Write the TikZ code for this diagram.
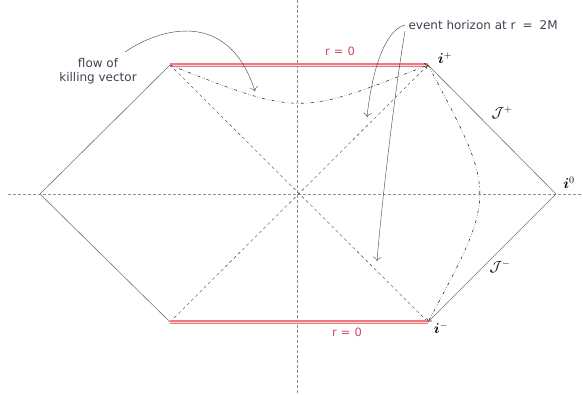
\documentclass[tikz,border=0pt]{standalone}
\usepackage{fontspec}
\setmainfont{DejaVu Sans}
\usepackage{amsmath,bm}
\usetikzlibrary{arrows.meta}
\definecolor{txtgray}{HTML}{4A3C52}
\definecolor{singred}{HTML}{F07880}
\definecolor{singcore}{HTML}{FCD8DA}
\definecolor{rlabel}{HTML}{D04868}
\tikzset{
  axis/.style={densely dashed, gray!90, thick},
  bdry/.style={gray!90!black, semithick},
  horizon/.style={dashed, black!75},
  sing/.style={draw=singcore, line width=1pt, preaction={draw=singred, line width=3.4pt}},
  killing/.style={dash dot dot, black!80, semithick, -{To[length=3pt]}},
  pointer/.style={black!75, -{To[length=4pt]}},
  lbl/.style={font=\fontsize{12}{14}\selectfont, text=txtgray},
  rlbl/.style={font=\fontsize{11.5}{14}\selectfont, text=rlabel},
  inf/.style={font=\Large},
}
\begin{document}
\begin{tikzpicture}[x=1pt,y=-1pt]
  \useasboundingbox (0,0) rectangle (583,394);
  % corners of the diagram
  \coordinate (left) at (40,194);
  \coordinate (tl) at (170,65);
  \coordinate (bl) at (170,322);
  \coordinate (ip) at (428,65);
  \coordinate (im) at (428,322);
  \coordinate (izero) at (556,194);
  \coordinate (mid) at (297,194);
  % axes
  \draw[axis] (8,194) -- (583,194);
  \draw[axis] (297,0) -- (297,394);
  % outer boundary
  \draw[bdry] (tl) -- (left) -- (bl);
  \draw[bdry] (ip) -- (izero) -- (im);
  % horizons
  \draw[horizon] (tl) -- (im);
  \draw[horizon] (bl) -- (ip);
  % singularities
  \draw[sing] (tl) -- (ip);
  \draw[sing] (bl) -- (im);
  \node[rlbl] (rtop) at (340,51) {r\hspace{4pt}=\hspace{4pt}0};
  \node[rlbl] (rbot) at (347,332) {r\hspace{4pt}=\hspace{4pt}0};
  % killing flow lines
  \draw[killing] (tl) .. controls (299,116) .. (ip);
  \draw[killing] (ip) .. controls (497,194) .. (im);
  % labels of infinity
  \node[inf] (lip) at (445,58) {$\bm{i}^{+}$};
  \node[inf] (lim) at (441,328) {$\bm{i}^{-}$};
  \node[inf] (liz) at (569,183) {$\bm{i}^{0}$};
  \node[inf] (jp) at (502,113) {$\mathcal{J}^{+}$};
  \node[inf] (jm) at (500,267) {$\mathcal{J}^{-}$};
  % notes
  \node[lbl, align=center] (flow) at (98,71) {flow of\\killing vector};
  \node[lbl, anchor=west] (eh) at (405,25)
    {event horizon at r\hspace{7pt}=\hspace{7pt}2M};
  \coordinate (flowtip) at (255,91);
  \coordinate (ehtip1) at (367,117);
  \coordinate (ehtip2) at (377,261);
  \draw[pointer] (125,52) .. controls (160,28) and (228,8) .. (flowtip);
  \draw[pointer] (eh.west) .. controls (385,30) and (372,70) .. (ehtip1);
  \draw[pointer] ([yshift=-6pt]eh.west) .. controls (395,90) and (382,200) .. (ehtip2);
\end{tikzpicture}
\end{document}
